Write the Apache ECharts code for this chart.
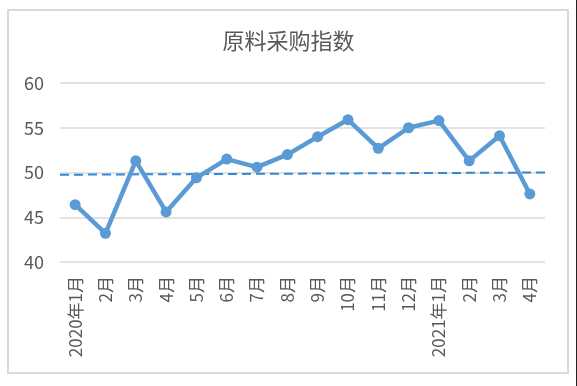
<!DOCTYPE html>
<html>
<head>
<meta charset="utf-8">
<script src="https://cdn.jsdelivr.net/npm/echarts@6/dist/echarts.min.js"></script>
<style>
html,body{margin:0;padding:0;background:#fff;}
#chart{width:577px;height:386px;}
</style>
</head>
<body>
<div id="chart"></div>
<script>
var titleText = '原料采购指数';
var categories = ['2020年1月','2月','3月','4月','5月','6月','7月','8月','9月','10月','11月','12月','2021年1月','2月','3月','4月'];
var indexValues = [46.4, 43.2, 51.3, 45.6, 49.4, 51.5, 50.6, 52.0, 54.0, 55.9, 52.7, 55.0, 55.8, 51.3, 54.1, 47.6];
var refLineX = [0, 1];
var refLineY = [49.75, 50.0];
var yTicks = {min: 40, max: 60, interval: 5};

var chart = echarts.init(document.getElementById('chart'), null, {renderer: 'canvas'});
var fontFam = '"Noto Sans CJK SC", "Noto Sans", sans-serif';
chart.setOption({
  animation: false,
  backgroundColor: '#ffffff',
  title: {
    text: titleText,
    left: 'center',
    top: 25,
    textStyle: {fontFamily: fontFam, fontSize: 22, fontWeight: 'normal', color: '#595959'}
  },
  graphic: [
    {type: 'rect', shape: {x: 8, y: 10, width: 560, height: 363}, style: {fill: 'none', stroke: '#d9d9d9', lineWidth: 2}, silent: true},
    {type: 'line', shape: {x1: 576.5, y1: 0, x2: 576.5, y2: 386}, style: {stroke: '#222', lineWidth: 1}, silent: true}
  ],
  grid: {left: 60, right: 32, top: 83, bottom: 124, containLabel: false},
  xAxis: [{
    type: 'category',
    data: categories,
    boundaryGap: true,
    axisLine: {show: false},
    axisTick: {show: false},
    axisLabel: {rotate: 90, interval: 0, margin: 14, fontFamily: fontFam, fontSize: 17, color: '#595959'}
  }, {
    type: 'value',
    min: 0, max: 1,
    show: false
  }],
  yAxis: {
    type: 'value',
    min: yTicks.min, max: yTicks.max, interval: yTicks.interval,
    axisLine: {show: false},
    axisTick: {show: false},
    splitLine: {lineStyle: {color: '#d9d9d9', width: 1.5}},
    axisLabel: {margin: 16, fontFamily: fontFam, fontSize: 18, color: '#595959'}
  },
  series: [{
    type: 'line',
    xAxisIndex: 1,
    data: refLineX.map(function(x, i){ return [x, refLineY[i]]; }),
    symbol: 'none',
    lineStyle: {color: '#2F88D8', width: 2, type: [9, 5]},
    z: 1
  }, {
    type: 'line',
    data: indexValues,
    symbol: 'circle',
    symbolSize: 11,
    lineStyle: {color: '#5B9BD5', width: 4.5},
    itemStyle: {color: '#5B9BD5'},
    z: 3
  }]
});
</script>
</body>
</html>
